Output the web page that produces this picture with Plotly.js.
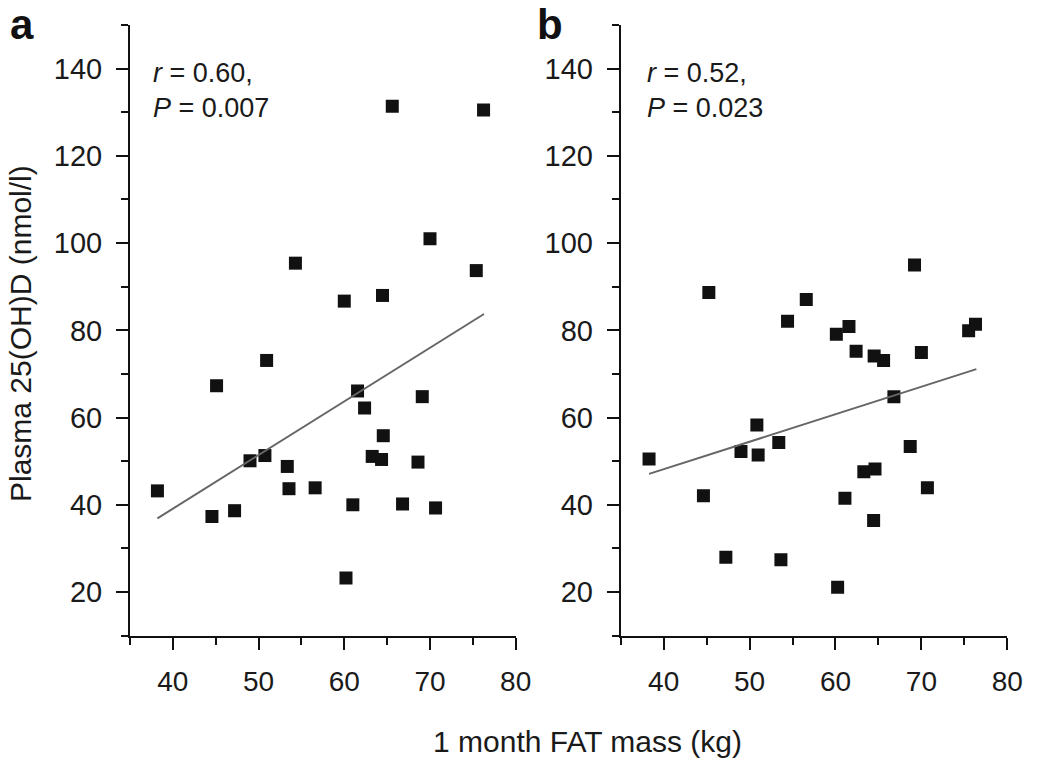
<!DOCTYPE html>
<html>
<head>
<meta charset="utf-8">
<script src="https://cdn.plot.ly/plotly-3.0.1.min.js"></script>
<style>html,body{margin:0;padding:0;background:#fff;}#chart{width:1050px;height:766px;}</style>
</head>
<body>
<div id="chart"></div>
<script>
// Panel a: 1 month FAT mass (kg) vs plasma 25(OH)D (nmol/l)
const fatA = [38.2, 44.56, 45.1, 47.2, 49.0, 50.74, 50.94, 53.35, 53.55, 54.3, 56.6, 60.0, 60.2, 61.0, 61.55, 62.37, 63.26, 64.35, 64.46, 64.55, 65.6, 66.8, 68.6, 69.1, 70.0, 70.65, 75.4, 76.25];
const vitA = [43.2, 37.3, 67.3, 38.66, 50.1, 51.3, 73.1, 48.8, 43.7, 95.4, 43.9, 86.7, 23.2, 40.0, 66.1, 62.2, 51.1, 50.4, 88.0, 55.85, 131.4, 40.2, 49.8, 64.8, 101.0, 39.3, 93.7, 130.5];
const fitAx = [38.2, 76.3];
const fitAy = [36.9, 83.75];

// Panel b
const fatB = [38.3, 44.63, 45.26, 47.24, 49.0, 50.85, 51.0, 53.4, 53.65, 54.42, 56.6, 60.1, 60.25, 61.1, 61.57, 62.4, 63.3, 64.44, 64.5, 64.6, 65.6, 66.8, 68.7, 69.2, 70.0, 70.7, 75.5, 76.3];
const vitB = [50.5, 42.1, 88.7, 28.0, 52.2, 58.3, 51.4, 54.3, 27.4, 82.1, 87.1, 79.1, 21.1, 41.5, 80.9, 75.2, 47.6, 36.4, 74.1, 48.2, 73.1, 64.8, 53.4, 95.0, 74.9, 43.9, 79.9, 81.4];
const fitBx = [38.3, 76.4];
const fitBy = [47.1, 71.1];

const panelLabels = ['a', 'b'];
const statsText = ['<i>r</i> = 0.60,<br><i>P</i> = 0.007', '<i>r</i> = 0.52,<br><i>P</i> = 0.023'];
const xTitle = '1 month FAT mass (kg)';
const yTitle = 'Plasma 25(OH)D (nmol/l)';

const W = 1050, H = 766;
const px = v => v / W;
const py = v => 1 - v / H;

const FONT = 'Liberation Sans, Arial, Helvetica, sans-serif';
const marker = {symbol: 'square', size: 13, color: '#111111'};
const fitLine = {color: '#666666', width: 2};

const traces = [
  {x: fatA, y: vitA, type: 'scatter', mode: 'markers', marker: marker, xaxis: 'x', yaxis: 'y', hoverinfo: 'skip'},
  {x: fitAx, y: fitAy, type: 'scatter', mode: 'lines', line: fitLine, xaxis: 'x', yaxis: 'y', hoverinfo: 'skip'},
  {x: fatB, y: vitB, type: 'scatter', mode: 'markers', marker: marker, xaxis: 'x2', yaxis: 'y2', hoverinfo: 'skip'},
  {x: fitBx, y: fitBy, type: 'scatter', mode: 'lines', line: fitLine, xaxis: 'x2', yaxis: 'y2', hoverinfo: 'skip'}
];

function xAxis(dom, anchor) {
  return {
    domain: dom, anchor: anchor, range: [35, 80], dtick: 10, tick0: 0,
    showline: true, linecolor: '#111', linewidth: 2, mirror: false,
    ticks: 'outside', ticklen: 12, tickwidth: 2, tickcolor: '#111',
    showgrid: false, zeroline: false, ticklabelstandoff: 8,
    tickfont: {family: FONT, size: 28, color: '#1a1a1a'},
    minor: {dtick: 5, tick0: 0, ticks: 'outside', ticklen: 7, tickwidth: 2, tickcolor: '#111', showgrid: false}
  };
}
function yAxis(dom, anchor) {
  return {
    domain: dom, anchor: anchor, range: [10, 150], dtick: 20, tick0: 0,
    showline: true, linecolor: '#111', linewidth: 2, mirror: false,
    ticks: 'outside', ticklen: 12, tickwidth: 2, tickcolor: '#111',
    showgrid: false, zeroline: false, ticklabelstandoff: 8,
    tickfont: {family: FONT, size: 29, color: '#1a1a1a'},
    minor: {dtick: 10, tick0: 0, ticks: 'outside', ticklen: 7, tickwidth: 2, tickcolor: '#111', showgrid: false}
  };
}

const yDom = [py(635.7), py(25)];
const layout = {
  width: W, height: H,
  margin: {l: 0, r: 0, t: 0, b: 0, pad: 0},
  paper_bgcolor: '#fff', plot_bgcolor: '#fff',
  showlegend: false,
  font: {family: FONT, color: '#1a1a1a'},
  xaxis: xAxis([px(130), px(515.7)], 'y'),
  yaxis: yAxis(yDom, 'x'),
  xaxis2: xAxis([px(620.7), px(1007.3)], 'y2'),
  yaxis2: yAxis(yDom, 'x2'),
  annotations: [
    {xref: 'paper', yref: 'paper', x: px(8), y: py(24), xanchor: 'left', yanchor: 'middle', showarrow: false,
     text: '<b>' + panelLabels[0] + '</b>', font: {family: FONT, size: 42, color: '#111'}},
    {xref: 'paper', yref: 'paper', x: px(535), y: py(24), xanchor: 'left', yanchor: 'middle', showarrow: false,
     text: '<b>' + panelLabels[1] + '</b>', font: {family: FONT, size: 42, color: '#111'}},
    {xref: 'paper', yref: 'paper', x: px(151), y: py(90), xanchor: 'left', yanchor: 'middle', align: 'left', showarrow: false,
     text: statsText[0], font: {family: FONT, size: 27, color: '#1a1a1a'}},
    {xref: 'paper', yref: 'paper', x: px(645), y: py(90), xanchor: 'left', yanchor: 'middle', align: 'left', showarrow: false,
     text: statsText[1], font: {family: FONT, size: 27, color: '#1a1a1a'}},
    {xref: 'paper', yref: 'paper', x: px(587.5), y: py(741), xanchor: 'center', yanchor: 'middle', showarrow: false,
     text: xTitle, font: {family: FONT, size: 30, color: '#1a1a1a'}},
    {xref: 'paper', yref: 'paper', x: px(20), y: py(334), xanchor: 'center', yanchor: 'middle', textangle: -90, showarrow: false,
     text: yTitle, font: {family: FONT, size: 30, color: '#1a1a1a'}}
  ]
};

Plotly.newPlot('chart', traces, layout, {staticPlot: true, displayModeBar: false});
</script>
</body>
</html>
